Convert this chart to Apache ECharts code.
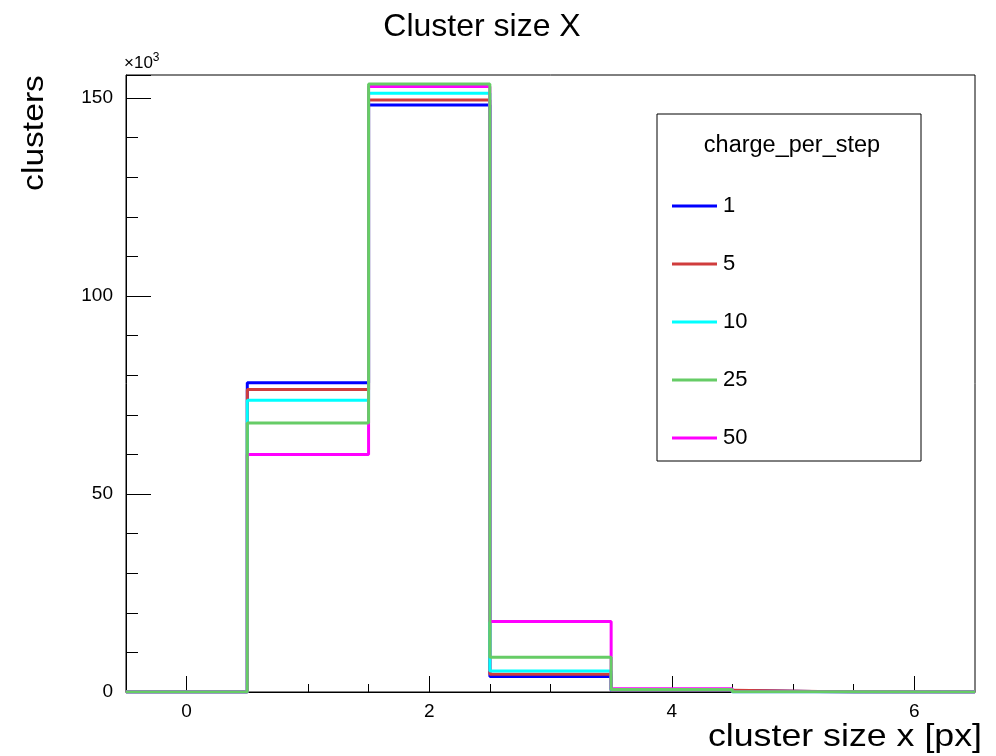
<!DOCTYPE html>
<html>
<head>
<meta charset="utf-8">
<script src="https://cdn.jsdelivr.net/npm/echarts@6/dist/echarts.min.js"></script>
<style>
html,body{margin:0;padding:0;background:#fff;}
#chart{width:996px;height:756px;}
</style>
</head>
<body>
<div id="chart"></div>
<script>
// bin centres of the histogram (cluster size x [px])
const binCenters = [0, 1, 2, 3, 4, 5, 6];
// counts in units of 10^3
const seriesNames = ['1', '5', '10', '25', '50'];
const s1  = [0, 78.1, 148.2, 3.9, 0.40, 0.02, 0];
const s5  = [0, 76.4, 149.5, 4.5, 0.45, 0.02, 0];
const s10 = [0, 73.7, 151.2, 5.3, 0.55, 0.03, 0];
const s25 = [0, 67.9, 153.5, 8.8, 0.60, 0.04, 0];
const s50 = [0, 60.0, 152.9, 17.8, 0.80, 0.05, 0];
const xMajorTicks = [0, 2, 4, 6];
const xMinorTicks = [0.5, 1, 1.5, 2.5, 3, 3.5, 4.5, 5, 5.5];
const yTickLabels = [0, 50, 100, 150];
const colors = ['#0000ff', '#d03c3c', '#00ffff', '#66cc66', '#ff00ff'];

const FONT = '"Liberation Sans", Arial, Helvetica, sans-serif';

function histPoints(vals) {
  const pts = [];
  vals.forEach((v, i) => {
    pts.push([binCenters[i] - 0.5, v]);
    pts.push([binCenters[i] + 0.5, v]);
  });
  return pts;
}

const allVals = [s1, s5, s10, s25, s50];
// draw order: green (25) on top
const drawOrder = [0, 1, 2, 4, 3];
const series = drawOrder.map((k, j) => ({
  name: seriesNames[k],
  type: 'line',
  data: histPoints(allVals[k]),
  showSymbol: false,
  symbol: 'none',
  animation: false,
  lineStyle: { color: colors[k], width: 3 },
  itemStyle: { color: colors[k] },
  z: 2 + j
}));

const chart = echarts.init(document.getElementById('chart'), null, { renderer: 'canvas' });
chart.setOption({
  animation: false,
  grid: { left: 126, right: 21, top: 75, bottom: 64, show: true, borderColor: '#000', borderWidth: 1, backgroundColor: 'transparent' },
  xAxis: [
    {
      type: 'value', min: -0.5, max: 6.5, position: 'bottom',
      axisLine: { show: true, onZero: false, lineStyle: { color: '#000', width: 1 } },
      axisTick: { show: true, inside: true, length: 16, customValues: xMajorTicks, lineStyle: { color: '#000' } },
      axisLabel: { show: true, customValues: xMajorTicks, margin: 10, fontSize: 19, color: '#000', fontFamily: FONT },
      splitLine: { show: false }
    },
    {
      type: 'value', min: -0.5, max: 6.5, position: 'bottom',
      axisLine: { show: false, onZero: false },
      axisTick: { show: true, inside: true, length: 8, customValues: xMinorTicks, lineStyle: { color: '#000' } },
      axisLabel: { show: false },
      splitLine: { show: false }
    }
  ],
  yAxis: {
    type: 'value', min: 0, max: 155.8, interval: 50,
    axisLine: { show: true, onZero: false, lineStyle: { color: '#000', width: 1 } },
    axisTick: { show: true, inside: true, length: 25, lineStyle: { color: '#000' } },
    minorTick: { show: true, splitNumber: 5, length: 12, lineStyle: { color: '#000' } },
    axisLabel: { margin: 13, fontSize: 19, color: '#000', fontFamily: FONT, customValues: yTickLabels,
      formatter: v => String(v) },
    splitLine: { show: false },
    minorSplitLine: { show: false }
  },
  legend: {
    orient: 'vertical', left: 667, top: 190,
    data: seriesNames,
    icon: 'rect', itemWidth: 45, itemHeight: 3, itemGap: 36,
    textStyle: { fontSize: 22, color: '#000', fontFamily: FONT, lineHeight: 22, padding: [0, 0, 0, 1] },
    selectedMode: false
  },
  series: series,
  graphic: [
    { type: 'rect', shape: { x: 657, y: 114, width: 264, height: 347 },
      style: { fill: 'none', stroke: '#000', lineWidth: 1 }, z: 0 },
    { type: 'text', x: 792, y: 146, style: { text: 'charge_per_step', font: '23.5px ' + FONT, fill: '#000', textAlign: 'center', textVerticalAlign: 'middle' } },
    { type: 'text', x: 482, y: 27, style: { text: 'Cluster size X', font: '32px ' + FONT, fill: '#000', textAlign: 'center', textVerticalAlign: 'middle' } },
    { type: 'text', x: 35, y: 133, rotation: Math.PI / 2, scaleX: 1.12, style: { text: 'clusters', font: '30px ' + FONT, fill: '#000', textAlign: 'center', textVerticalAlign: 'middle' } },
    { type: 'text', x: 982, y: 737, scaleX: 1.117, style: { text: 'cluster size x [px]', font: '32px ' + FONT, fill: '#000', textAlign: 'right', textVerticalAlign: 'middle' } },
    { type: 'text', x: 124, y: 74, style: { text: '{a|×10}{b|3}', textAlign: 'left', textVerticalAlign: 'bottom',
      rich: { a: { font: '17px ' + FONT, fill: '#000' }, b: { font: '12px ' + FONT, fill: '#000', verticalAlign: 'top', padding: [0, 0, 10, 0] } } } }
  ]
});
</script>
</body>
</html>
